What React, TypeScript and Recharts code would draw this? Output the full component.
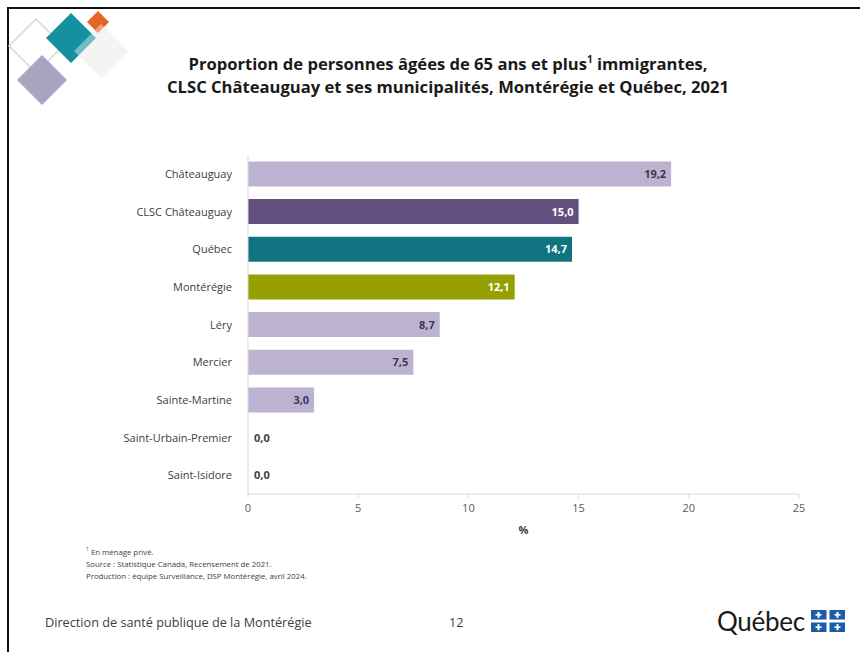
import { BarChart, Bar, XAxis, YAxis, Cell, LabelList } from "recharts";

const regions = [
  "Châteauguay",
  "CLSC Châteauguay",
  "Québec",
  "Montérégie",
  "Léry",
  "Mercier",
  "Sainte-Martine",
  "Saint-Urbain-Premier",
  "Saint-Isidore",
];
const proportions = [19.2, 15.0, 14.7, 12.1, 8.7, 7.5, 3.0, 0.0, 0.0];
const xTicks = [0, 5, 10, 15, 20, 25];

const barColors = [
  "#BDB3D1",
  "#634F7E",
  "#0F7380",
  "#96A000",
  "#BDB3D1",
  "#BDB3D1",
  "#BDB3D1",
  "#BDB3D1",
  "#BDB3D1",
];
const darkBars = [false, true, true, true, false, false, false, false, false];

const FONT = "'Open Sans', 'Noto Sans', sans-serif";

const data = regions.map((name, i) => ({ name, value: proportions[i] }));

const fmt = (v: number) => v.toFixed(1).replace(".", ",");

function BarValue(props: any) {
  const { x, y, width, height, value, index } = props;
  if (!value) return null;
  return (
    <text
      x={x + width - 5}
      y={y + height / 2}
      dy={4}
      textAnchor="end"
      fontSize={11}
      fontWeight={700}
      fill={darkBars[index] ? "#ffffff" : "#3F3551"}
      fontFamily={FONT}
    >
      {fmt(value)}
    </text>
  );
}

// category label, plus the "0,0" value next to the axis for empty bars
function CategoryTick(props: any) {
  const { x, y, payload, index } = props;
  const v = proportions[index];
  return (
    <g>
      <text x={x} y={y} dy={4} textAnchor="end" fontSize={11} fill="#404040" fontFamily={FONT}>
        {payload.value}
      </text>
      {v === 0 && (
        <text x={x + 22} y={y} dy={4} fontSize={11} fontWeight={700} fill="#404040" fontFamily={FONT}>
          {fmt(v)}
        </text>
      )}
    </g>
  );
}

function Decoration() {
  const d = (cx: number, cy: number, r: number) =>
    `M${cx},${cy - r} L${cx + r},${cy} L${cx},${cy + r} L${cx - r},${cy} Z`;
  return (
    <svg width={140} height={120} style={{ position: "absolute", left: 0, top: 0 }}>
      <path d={d(36, 46, 27)} fill="none" stroke="#d6d6d6" strokeWidth={1.5} />
      <path d={d(42, 80, 25)} fill="#ABA3C2" />
      <path d={d(101, 51, 27)} fill="#EDEDED" />
      <path d={d(98, 22, 11)} fill="#E8622A" />
      <path d={d(71, 38, 25)} fill="#1590A0" />
      <path d={d(101, 51, 27)} fill="#ffffff" opacity={0.4} />
    </svg>
  );
}

function QuebecLogo() {
  return (
    <div style={{ position: "absolute", left: 717, top: 605, display: "flex", alignItems: "center" }}>
      <span style={{ fontFamily: "Lato, sans-serif", fontSize: 26, color: "#1a1a1a", letterSpacing: -0.3 }}>
        Québec
      </span>
      <svg width={34} height={22} style={{ marginLeft: 6 }}>
        <rect x={0} y={0} width={34} height={22} fill="#1F5BA8" />
        <rect x={15.5} y={0} width={3} height={22} fill="#fff" />
        <rect x={0} y={9.5} width={34} height={3} fill="#fff" />
        {[
          [7.5, 4.8],
          [26.5, 4.8],
          [7.5, 17.2],
          [26.5, 17.2],
        ].map(([cx, cy], i) => (
          <g key={i} fill="#fff">
            <rect x={cx - 1} y={cy - 3} width={2} height={6} />
            <rect x={cx - 3} y={cy - 0.8} width={6} height={1.6} />
          </g>
        ))}
      </svg>
    </div>
  );
}

export default function App() {
  return (
    <div
      style={{
        position: "absolute",
        left: 0,
        top: 0,
        width: 860,
        height: 652,
        overflow: "hidden",
        background: "#fff",
        fontFamily: FONT,
      }}
    >
      <div
        style={{
          position: "absolute",
          left: 7,
          top: 7,
          width: 900,
          height: 700,
          border: "2px solid #111",
        }}
      />
      <Decoration />
      <div
        style={{
          position: "absolute",
          left: 0,
          top: 52,
          width: 896,
          textAlign: "center",
          fontWeight: 700,
          fontSize: 16.6,
          lineHeight: "23px",
          color: "#1a1a1a",
        }}
      >
        Proportion de personnes âgées de 65 ans et plus<sup style={{ fontSize: 10, lineHeight: 0 }}>1</sup> immigrantes,
        <br />
        CLSC Châteauguay et ses municipalités, Montérégie et Québec, 2021
      </div>
      <div style={{ position: "absolute", left: 0, top: 0 }}>
        <BarChart
          width={860}
          height={560}
          data={data}
          layout="vertical"
          margin={{ top: 155, right: 61, bottom: 26, left: 0 }}
          barCategoryGap="17%"
        >
          <XAxis
            type="number"
            domain={[0, 25]}
            ticks={xTicks}
            height={40}
            axisLine={{ stroke: "#D9D9D9" }}
            tickLine={{ stroke: "#D9D9D9" }}
            tickSize={4}
            tickMargin={6}
            tick={{ fill: "#595959", fontSize: 11, fontFamily: FONT }}
            label={{
              value: "%",
              position: "insideBottom",
              offset: 0,
              fill: "#404040",
              fontSize: 11,
              fontWeight: 700,
              fontFamily: FONT,
            }}
          />
          <YAxis
            type="category"
            dataKey="name"
            width={248}
            axisLine={{ stroke: "#D9D9D9" }}
            tickLine={false}
            tickMargin={10}
            tick={<CategoryTick />}
          />
          <Bar dataKey="value" isAnimationActive={false}>
            {data.map((_, i) => (
              <Cell key={i} fill={barColors[i]} />
            ))}
            <LabelList dataKey="value" content={BarValue} />
          </Bar>
        </BarChart>
      </div>
      <div
        style={{
          position: "absolute",
          left: 86,
          top: 546,
          fontSize: 7.8,
          lineHeight: "12px",
          color: "#404040",
        }}
      >
        <div>
          <sup style={{ fontSize: 5, lineHeight: 0 }}>1</sup> En ménage privé.
        </div>
        <div>Source : Statistique Canada, Recensement de 2021.</div>
        <div>Production : équipe Surveillance, DSP Montérégie, avril 2024.</div>
      </div>
      <div style={{ position: "absolute", left: 45, top: 613, fontSize: 12.7, color: "#404040" }}>
        Direction de santé publique de la Montérégie
      </div>
      <div style={{ position: "absolute", left: 449, top: 613, fontSize: 12.7, color: "#404040" }}>12</div>
      <QuebecLogo />
    </div>
  );
}
